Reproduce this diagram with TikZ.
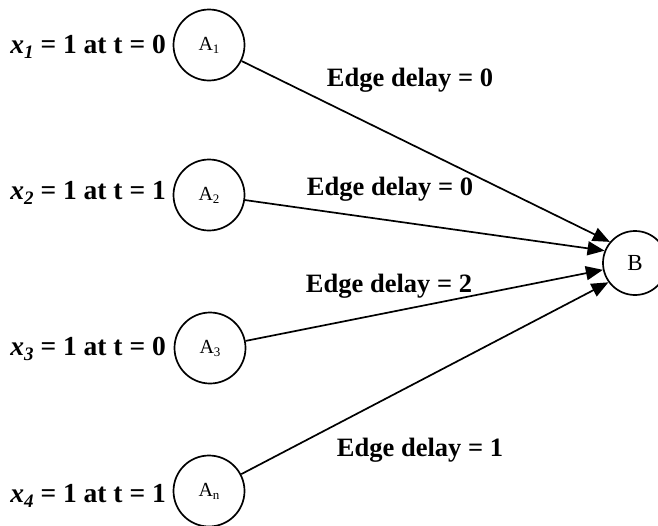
\documentclass[tikz,border=0pt]{standalone}
\usepackage{fontspec}
\setmainfont{Liberation Serif}
\usetikzlibrary{arrows.meta}

% subscript helpers for the node names and the variable labels
\newcommand{\nsub}[1]{\raisebox{-3pt}{\fontsize{13}{13}\selectfont #1}}
\newcommand{\xvar}[1]{\textit{x}\raisebox{-5pt}{\fontsize{19}{19}\selectfont\itshape #1}}

\begin{document}
\begin{tikzpicture}[x=1pt,y=-1pt,
  vertex/.style={circle,draw,line width=1.7pt,inner sep=0pt,minimum size=71pt,
                 font=\fontsize{20}{20}\selectfont},
  sink/.style={vertex,minimum size=64pt,font=\fontsize{23}{23}\selectfont},
  inlabel/.style={anchor=east,font=\fontsize{27.5}{27.5}\selectfont\bfseries,inner sep=0pt},
  delay/.style={font=\fontsize{26.5}{26.5}\selectfont\bfseries,inner sep=0pt,anchor=base},
  edge/.style={line width=1.7pt,-{Triangle[length=17pt,width=14pt]}}]
  \useasboundingbox (0,0) rectangle (658,525);

  % source vertices
  \node[vertex] (A1) at (209,45)  {A\nsub{1}};
  \node[vertex] (A2) at (209,195) {A\nsub{2}};
  \node[vertex] (A3) at (210,348) {A\nsub{3}};
  \node[vertex] (An) at (209,491) {A\nsub{n}};

  % sink vertex
  \node[sink] (B) at (635,263) {B};

  % initial values
  \node[inlabel] (L1) at (166,47)  {\xvar{1} = 1 at t = 0};
  \node[inlabel] (L2) at (166,193) {\xvar{2} = 1 at t = 1};
  \node[inlabel] (L3) at (166,349) {\xvar{3} = 1 at t = 0};
  \node[inlabel] (L4) at (166,496) {\xvar{4} = 1 at t = 1};

  % edges into B
  \draw[edge] (A1) -- (B.140);
  \draw[edge] (A2) -- (B.158);
  \draw[edge] (A3) -- (B.192);
  \draw[edge] (An) -- (B.216);

  % edge delays
  \node[delay] (D1) at (410,86)  {Edge delay = 0};
  \node[delay] (D2) at (390,195) {Edge delay = 0};
  \node[delay] (D3) at (389,292) {Edge delay = 2};
  \node[delay] (D4) at (420,456) {Edge delay = 1};
\end{tikzpicture}
\end{document}
